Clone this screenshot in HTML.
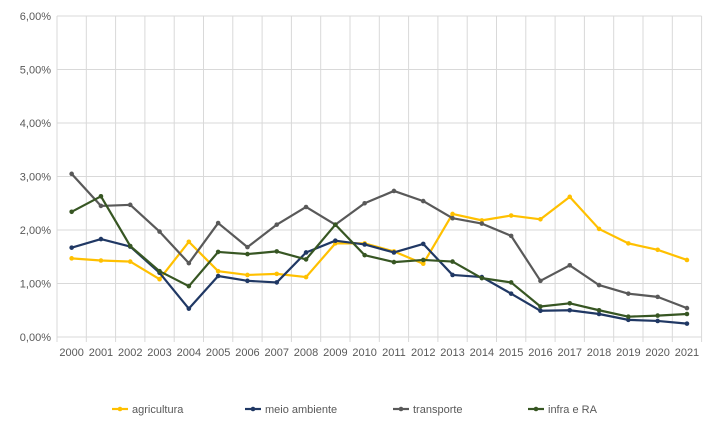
<!DOCTYPE html>
<html><head><meta charset="utf-8"><style>
body{margin:0;background:#fff;width:709px;height:427px;overflow:hidden;font-family:"Liberation Sans",sans-serif}
svg text{font-family:"Liberation Sans",sans-serif;font-size:11px;fill:#595959}
</style></head><body>
<svg id="chart" width="709" height="427" xmlns="http://www.w3.org/2000/svg"></svg>
<script>
const years=["2000","2001","2002","2003","2004","2005","2006","2007","2008","2009","2010","2011","2012","2013","2014","2015","2016","2017","2018","2019","2020","2021"];
const agricultura=[1.47,1.43,1.41,1.08,1.78,1.23,1.16,1.18,1.12,1.75,1.75,1.6,1.37,2.3,2.18,2.27,2.2,2.62,2.02,1.75,1.63,1.44];
const meioAmbiente=[1.67,1.83,1.69,1.2,0.53,1.14,1.05,1.02,1.58,1.8,1.73,1.58,1.74,1.16,1.12,0.81,0.49,0.5,0.43,0.32,0.3,0.25];
const transporte=[3.05,2.45,2.47,1.97,1.38,2.13,1.68,2.1,2.43,2.1,2.5,2.73,2.54,2.22,2.12,1.89,1.05,1.34,0.97,0.81,0.75,0.54];
const infraRA=[2.34,2.63,1.7,1.23,0.95,1.59,1.55,1.6,1.45,2.1,1.53,1.4,1.44,1.41,1.1,1.02,0.57,0.63,0.5,0.38,0.4,0.43];
const yTicks=[0,1,2,3,4,5,6];
const seriesNames=["agricultura","meio ambiente","transporte","infra e RA"];
const seriesColors=["#FFC000","#203864","#595959","#375623"];
const seriesData=[agricultura,meioAmbiente,transporte,infraRA];

const svg=document.getElementById('chart');
const NS="http://www.w3.org/2000/svg";
const L=57,R=701.6,T=16,B=337;
const bw=(R-L)/years.length;
const x=i=>L+bw*(i+0.5);
const y=v=>B-(v/6)*(B-T);
function mk(tag,attrs,parent){const e=document.createElementNS(NS,tag);for(const k in attrs)e.setAttribute(k,attrs[k]);(parent||svg).appendChild(e);return e;}

yTicks.forEach(t=>{
  const g=mk('line',{x1:L,x2:R,y1:y(t),y2:y(t),stroke:'#d9d9d9','stroke-width':1});
  
  
  const tx=mk('text',{x:L-6,y:y(t)+4,'text-anchor':'end'});
  tx.textContent=t.toFixed(2).replace('.',',')+'%';
  
  
});
for(let i=0;i<=years.length;i++){
  const v=mk('line',{x1:L+bw*i,x2:L+bw*i,y1:T,y2:B+5,stroke:'#d9d9d9','stroke-width':1});
  
  
}
years.forEach((yr,i)=>{
  const tx=mk('text',{x:x(i),y:B+19,'text-anchor':'middle'});
  tx.textContent=yr;
  
  
});
seriesData.forEach((d,s)=>{
  const g=mk('g',{});
  
  
  const p=mk('polyline',{points:d.map((v,i)=>x(i)+','+y(v)).join(' '),fill:'none',stroke:seriesColors[s],'stroke-width':2.2,'stroke-linejoin':'round'},g);
  
  
  d.forEach((v,i)=>{
    const c=mk('circle',{cx:x(i),cy:y(v),r:2.3,fill:seriesColors[s]},g);
    
    
  });
});
const legX=[112,245,393,528];
seriesNames.forEach((n,s)=>{
  const g=mk('g',{});
  
  
  mk('line',{x1:legX[s],x2:legX[s]+16,y1:409,y2:409,stroke:seriesColors[s],'stroke-width':2.2},g);
  mk('circle',{cx:legX[s]+8,cy:409,r:2.3,fill:seriesColors[s]},g);
  const t=mk('text',{x:legX[s]+20,y:413},g);
  t.textContent=n;
});
</script>
</body></html>
